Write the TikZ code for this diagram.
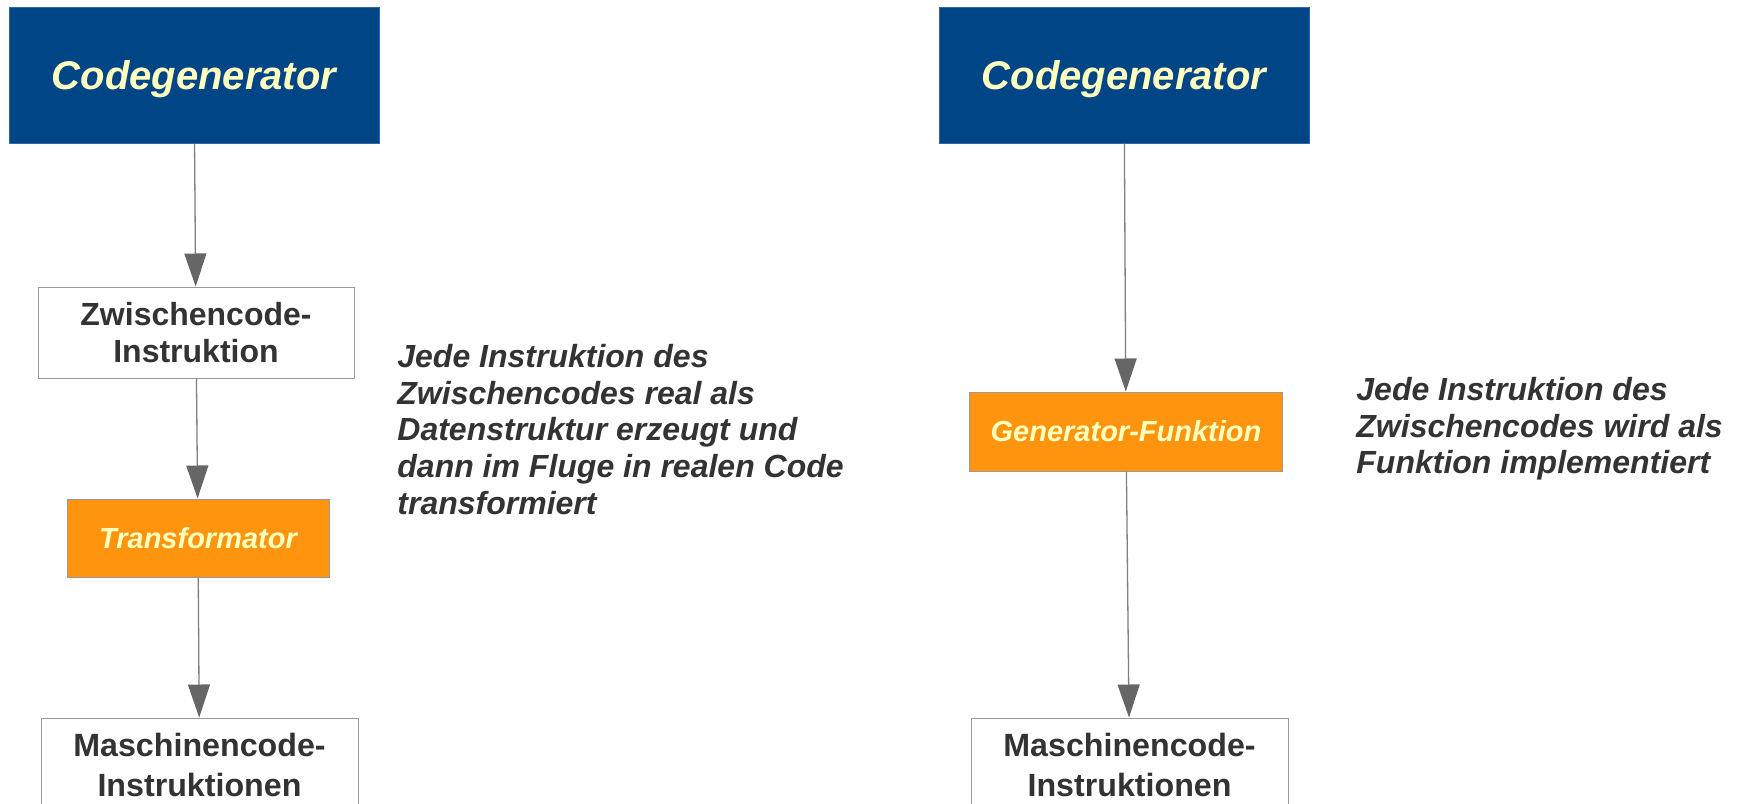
\documentclass[tikz,border=0pt]{standalone}
\usepackage{fontspec}
\setmainfont{Liberation Sans}
\usepackage{xcolor}
\usepackage{tikz}
\usetikzlibrary{positioning,arrows.meta}

\definecolor{cgblue}{HTML}{004586}
\definecolor{cgedge}{HTML}{3465A4}
\definecolor{boxorange}{HTML}{FF950E}
\definecolor{paleyellow}{HTML}{FFFFBF}
\definecolor{textgray}{HTML}{333333}
\definecolor{edgegray}{HTML}{999999}
\definecolor{linegray}{HTML}{808080}
\definecolor{headgray}{HTML}{666666}

\begin{document}
\begin{tikzpicture}[
			x=0.5pt, y=-0.5pt,
			every node/.style={inner sep=0pt, align=center},
			genbox/.style={draw=cgedge, line width=0.5pt, fill=cgblue, text=paleyellow,
				minimum width=185pt, minimum height=68pt, text depth=0pt,
				font=\fontsize{20}{24}\selectfont\bfseries\itshape},
			codebox/.style={draw=edgegray, line width=0.5pt, fill=white, text=textgray,
				font=\fontsize{16}{18.35}\selectfont\bfseries},
			mcbox/.style={codebox, minimum width=158.5pt, minimum height=47pt,
				font=\fontsize{16.1}{19.6}\selectfont\bfseries},
			funcbox/.style={draw=edgegray, line width=0.5pt, fill=boxorange, text=paleyellow,
				font=\fontsize{14.5}{17}\selectfont\bfseries\itshape},
			note/.style={anchor=north west, align=left, text=textgray,
				font=\fontsize{16}{18.35}\selectfont\bfseries\itshape},
			flow/.style={draw=linegray, line width=0.65pt,
				-{Triangle[length=16.5pt,width=11pt,color=headgray]}}
			]
			\useasboundingbox (0,0) rectangle (1743,803);
			\clip (0,0) rectangle (1743,803);
			
			% left chain: intermediate code kept as data structure
			\node[genbox] (cgA) at (194,75) {Codegenerator};
			\node[codebox, minimum width=158pt, minimum height=45.5pt,
				below=71.5pt of cgA, xshift=1pt] (zw) {Zwischencode-\\Instruktion};
			\node[funcbox, minimum width=131pt, minimum height=39pt,
				below=60pt of zw, xshift=1pt] (tr) {Transformator};
			\node[mcbox, below=70pt of tr, xshift=0.75pt] (mcA) {Maschinencode-\\Instruktionen};
			
			\draw[flow] (cgA) -- (zw);
			\draw[flow] (zw) -- (tr);
			\draw[flow] (tr) -- (mcA);
			
			\node[note] (noteA) at (397,344) {Jede Instruktion des\\Zwischencodes real als\\Datenstruktur erzeugt und\\dann im Fluge in realen Code\\transformiert};
			
			% right chain: one function per instruction
			\node[genbox] (cgB) at (1124,75) {Codegenerator};
			\node[funcbox, minimum width=156.5pt, minimum height=39.5pt,
				below=124pt of cgB, xshift=1pt] (gf) {Generator-Funktion};
			\node[mcbox, below=123pt of gf, xshift=1.75pt] (mcB) {Maschinencode-\\Instruktionen};
			
			\draw[flow] (cgB) -- (gf);
			\draw[flow] (gf) -- (mcB);
			
			\node[note] (noteB) at (1356,377) {Jede Instruktion des\\Zwischencodes wird als\\Funktion implementiert};
		\end{tikzpicture}
\end{document}
